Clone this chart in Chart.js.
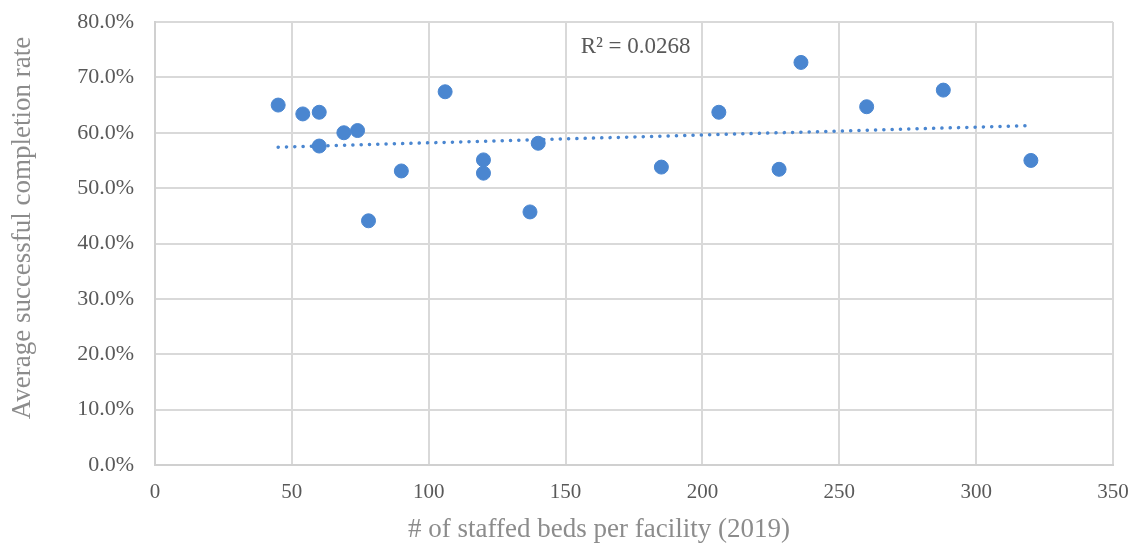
<!DOCTYPE html>
<html lang="en">
<head>
    <title>Completion rate vs staffed beds</title>
    <meta charset="UTF-8">
    <script src="https://cdn.jsdelivr.net/npm/chart.js"></script>
    <style>
        html, body {
            margin: 0;
            padding: 0;
            background: #fff;
        }
        #wrap {
            width: 1131px;
            height: 545px;
        }
    </style>
</head>
<body>
    <div id="wrap">
        <canvas id="chart"></canvas>
    </div>
    <script>
        // beds per facility and completion rate (%)
        var beds = [45, 54, 60, 60, 69, 74, 78, 90, 106, 120, 120, 137, 140, 185, 206, 228, 236, 260, 288, 320];
        var rates = [65.0, 63.4, 63.7, 57.6, 60.0, 60.4, 44.1, 53.1, 67.4, 55.1, 52.7, 45.7, 58.1, 53.8, 63.7, 53.4, 72.7, 64.7, 67.7, 55.0];

        // linear trend line, ends as drawn in the picture
        var trendX = [45, 320];
        var trendY = [57.4, 61.3];
        var rSquared = 'R² = 0.0268';

        var xTicks = [0, 50, 100, 150, 200, 250, 300, 350];
        var yTicks = [0, 10, 20, 30, 40, 50, 60, 70, 80];

        var xTitle = '# of staffed beds per facility (2019)';
        var yTitle = 'Average successful completion rate';

        var serif = '"Liberation Serif", "DejaVu Serif", serif';
        var blue = '#4a86d0';

        var points = beds.map(function (b, i) { return { x: b, y: rates[i] }; });
        var trend = trendX.map(function (t, i) { return { x: t, y: trendY[i] }; });

        // R² label and the two axis titles (Excel does not centre them on the plot)
        var labels = {
            id: 'labels',
            afterDatasetsDraw: function (chart) {
                var c = chart.ctx;
                var xs = chart.scales.x, ys = chart.scales.y;
                c.save();
                c.font = '23px ' + serif;
                c.fillStyle = '#595959';
                c.textAlign = 'left';
                c.textBaseline = 'middle';
                c.fillText(rSquared, xs.getPixelForValue(155.5), ys.getPixelForValue(75.5));

                c.font = '27px ' + serif;
                c.fillStyle = '#8c8c8c';
                c.textAlign = 'center';
                c.fillText(xTitle, 599, 530);

                c.translate(23, 228);
                c.rotate(-Math.PI / 2);
                c.fillText(yTitle, 0, 0);
                c.restore();
            }
        };

        var ctx = document.getElementById('chart').getContext('2d');
        var chart = new Chart(ctx, {
            type: 'scatter',
            data: {
                datasets: [
                    {
                        label: 'Facilities',
                        data: points,
                        backgroundColor: blue,
                        borderColor: blue,
                        pointRadius: 7,
                        pointHoverRadius: 7,
                        order: 1
                    },
                    {
                        label: 'Linear trend',
                        type: 'line',
                        data: trend,
                        borderColor: blue,
                        borderWidth: 3.5,
                        borderDash: [0.1, 8.2],
                        borderCapStyle: 'round',
                        pointRadius: 0,
                        fill: false,
                        order: 2
                    }
                ]
            },
            options: {
                responsive: true,
                maintainAspectRatio: false,
                animation: false,
                layout: {
                    padding: { left: 0, right: 18, top: 22, bottom: 0 }
                },
                plugins: {
                    legend: { display: false },
                    tooltip: { enabled: false }
                },
                scales: {
                    x: {
                        type: 'linear',
                        min: 0,
                        max: 350,
                        afterBuildTicks: function (axis) {
                            axis.ticks = xTicks.map(function (v) { return { value: v }; });
                        },
                        afterFit: function (axis) {
                            axis.height = 80;
                            axis.paddingLeft = 0;
                            axis.paddingRight = 0;
                        },
                        grid: { color: '#d9d9d9', lineWidth: 2, drawTicks: false },
                        border: { color: '#d0d0d0', width: 2 },
                        ticks: {
                            padding: 15,
                            color: '#595959',
                            font: { family: serif, size: 21 }
                        }
                    },
                    y: {
                        min: 0,
                        max: 80,
                        afterBuildTicks: function (axis) {
                            axis.ticks = yTicks.map(function (v) { return { value: v }; });
                        },
                        afterFit: function (axis) {
                            axis.width = 155;
                            axis.paddingTop = 0;
                            axis.paddingBottom = 0;
                        },
                        grid: { color: '#d9d9d9', lineWidth: 2, drawTicks: false },
                        border: { color: '#d0d0d0', width: 2 },
                        ticks: {
                            padding: 21,
                            color: '#595959',
                            font: { family: serif, size: 22 },
                            callback: function (v) { return v.toFixed(1) + '%'; }
                        }
                    }
                }
            },
            plugins: [labels]
        });
    </script>
</body>
</html>
